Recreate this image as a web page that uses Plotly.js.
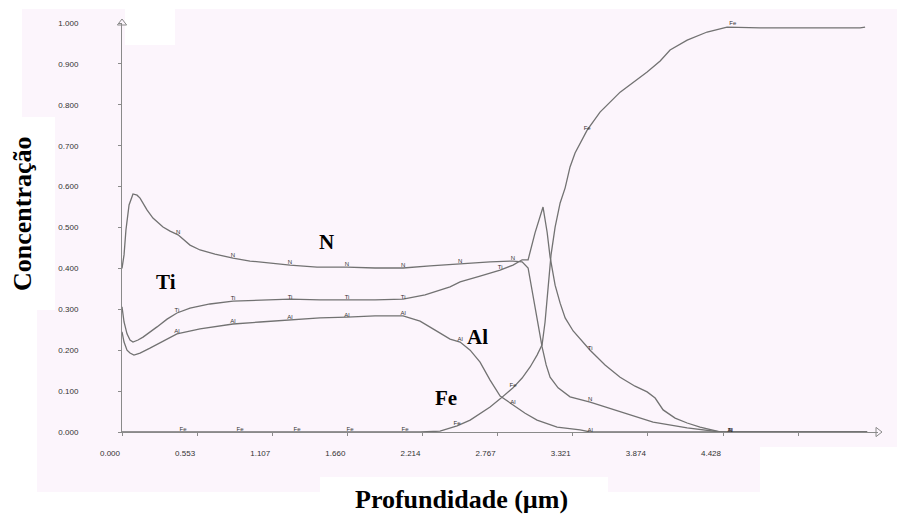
<!DOCTYPE html>
<html>
<head>
<meta charset="utf-8">
<script src="https://cdn.plot.ly/plotly-3.0.1.min.js"></script>
<style>html,body{margin:0;padding:0;background:#fff;}#chart{width:897px;height:518px;}</style>
</head>
<body>
<div id="chart"></div>
<script>
// ---- data (depth in µm, concentration fraction) ----
const depthN = [0,0.015,0.029,0.052,0.081,0.111,0.133,0.184,0.228,0.302,0.354,0.413,0.501,0.575,0.685,0.818,0.943,1.069,1.238,1.437,1.658,1.864,2.071,2.270,2.491,2.712,2.881,2.948,2.992,3.021,3.058,3.095,3.125,3.154,3.213,3.301,3.449,3.670,3.913,4.164,4.407,5.490];
const concN  = [0.400,0.433,0.494,0.555,0.582,0.579,0.572,0.543,0.523,0.501,0.491,0.482,0.457,0.445,0.435,0.425,0.418,0.413,0.408,0.403,0.403,0.401,0.401,0.406,0.411,0.416,0.418,0.416,0.401,0.347,0.274,0.208,0.164,0.134,0.108,0.086,0.073,0.049,0.024,0.010,0.000,0.000];

const depthTi = [0,0.015,0.037,0.059,0.081,0.118,0.155,0.206,0.258,0.332,0.405,0.501,0.648,0.818,1.017,1.238,1.459,1.658,1.864,2.071,2.233,2.417,2.491,2.638,2.786,2.881,2.948,2.992,3.043,3.102,3.132,3.154,3.191,3.228,3.265,3.324,3.449,3.559,3.670,3.780,3.869,3.928,3.987,4.075,4.164,4.259,4.407,5.490];
const concTi  = [0.306,0.269,0.240,0.225,0.220,0.225,0.232,0.244,0.257,0.276,0.291,0.303,0.313,0.320,0.323,0.325,0.323,0.323,0.323,0.325,0.335,0.355,0.367,0.381,0.396,0.408,0.421,0.421,0.487,0.550,0.489,0.428,0.359,0.315,0.279,0.247,0.200,0.164,0.134,0.112,0.098,0.083,0.054,0.034,0.022,0.012,0.000,0.000];

const depthAl = [0,0.015,0.037,0.059,0.088,0.133,0.206,0.280,0.405,0.575,0.818,1.017,1.238,1.459,1.658,1.864,2.071,2.196,2.307,2.417,2.491,2.565,2.638,2.712,2.786,2.881,2.970,3.058,3.206,3.375,3.449,5.490];
const concAl  = [0.245,0.220,0.200,0.193,0.188,0.193,0.205,0.218,0.240,0.252,0.264,0.269,0.274,0.279,0.281,0.284,0.284,0.271,0.249,0.227,0.220,0.200,0.171,0.127,0.088,0.066,0.046,0.029,0.012,0.005,0.000,0.000];

const depthFe = [0,2.196,2.343,2.469,2.565,2.638,2.712,2.786,2.881,2.948,3.007,3.058,3.095,3.117,3.132,3.147,3.161,3.191,3.228,3.265,3.301,3.338,3.375,3.427,3.522,3.670,3.869,3.965,4.038,4.164,4.311,4.458,4.702,4.996,5.291,5.438,5.475];
const concFe  = [0,0,0.002,0.015,0.029,0.044,0.061,0.081,0.108,0.132,0.159,0.188,0.213,0.269,0.323,0.384,0.433,0.501,0.560,0.597,0.648,0.682,0.707,0.738,0.782,0.831,0.880,0.907,0.934,0.958,0.978,0.990,0.988,0.988,0.988,0.988,0.990];

// small in-line element tags along each curve
const tagNx  = [0.413,0.818,1.238,1.658,2.071,2.491,2.881,3.449,4.48];
const tagNy  = [0.488,0.432,0.414,0.409,0.407,0.417,0.425,0.080,0.004];
const tagTix = [0.405,0.818,1.238,1.658,2.071,2.786,3.449,4.48];
const tagTiy = [0.296,0.326,0.330,0.328,0.330,0.401,0.205,0.004];
const tagAlx = [0.405,0.818,1.238,1.658,2.071,2.491,2.881,3.449,4.48];
const tagAly = [0.245,0.269,0.279,0.286,0.289,0.226,0.071,0.004,0.004];
const tagFex = [0.450,0.870,1.290,1.680,2.085,2.469,2.881,3.427,4.50];
const tagFey = [0.005,0.005,0.005,0.005,0.005,0.020,0.113,0.743,0.998];

const tickVals = [0,0.5535,1.107,1.6605,2.214,2.7675,3.321,3.8745,4.428,4.9815];
const tickText = ['0.000','0.553','1.107','1.660','2.214','2.767','3.321','3.874','4.428',''];
const yTickVals = [0,0.1,0.2,0.3,0.4,0.5,0.6,0.7,0.8,0.9,1.0];
const yTickText = ['0.000','0.100','0.200','0.300','0.400','0.500','0.600','0.700','0.800','0.900','1.000'];

const bigLabels = [
  {t:'N',  x:1.503, y:0.465},
  {t:'Ti', x:0.321, y:0.367},
  {t:'Al', x:2.616, y:0.232},
  {t:'Fe', x:2.388, y:0.084}
];

// ---- style ----
const lineCol = '#727272';
const axisCol = '#8a8a8a';
const pink = '#fcf5fc';
const serif = 'Liberation Serif, Times New Roman, serif';
const narrow = 'Liberation Sans Narrow, Arial Narrow, Liberation Sans, sans-serif';

function curve(x, y){
  return {x:x, y:y, type:'scatter', mode:'lines', line:{color:lineCol, width:1.3}, hoverinfo:'skip', showlegend:false};
}
function tags(x, y, t){
  return {x:x, y:y, type:'scatter', mode:'text', text:x.map(()=>t), textposition:'middle center',
    textfont:{family:narrow, size:6, color:'#333'}, hoverinfo:'skip', showlegend:false, cliponaxis:false};
}

const traces = [
  curve(depthN, concN), curve(depthTi, concTi), curve(depthAl, concAl), curve(depthFe, concFe),
  tags(tagNx, tagNy, 'N'), tags(tagTix, tagTiy, 'Ti'), tags(tagAlx, tagAly, 'Al'), tags(tagFex, tagFey, 'Fe'),
  {x:[0], y:[1.0], type:'scatter', mode:'markers', marker:{symbol:'triangle-up-open', size:8, color:axisCol, line:{width:1, color:axisCol}}, cliponaxis:false, hoverinfo:'skip', showlegend:false},
  {x:[5.57], y:[0], type:'scatter', mode:'markers', marker:{symbol:'triangle-right-open', size:8, color:axisCol, line:{width:1, color:axisCol}}, cliponaxis:false, hoverinfo:'skip', showlegend:false}
];

function rect(x0,x1,y0,y1,c){
  return {type:'rect', xref:'paper', yref:'paper', x0:x0, x1:x1, y0:y0, y1:y1, fillcolor:c, line:{width:0}, layer:'below'};
}

const annotations = bigLabels.map(b => ({
  x:b.x, y:b.y, xref:'x', yref:'y', text:b.t, showarrow:false,
  font:{family:serif, size:21, color:'#000', weight:'bold'}, xanchor:'center', yanchor:'middle'
}));
annotations.push({x:0.4497, y:-0.164, xref:'paper', yref:'paper', text:'<b>Profundidade (µm)</b>', showarrow:false,
  font:{family:serif, size:26, color:'#000'}, xanchor:'center', yanchor:'middle'});
annotations.push({x:-0.131, y:0.5355, xref:'paper', yref:'paper', text:'<b>Concentração</b>', showarrow:false, textangle:-90,
  font:{family:serif, size:26, color:'#000'}, xanchor:'center', yanchor:'middle'});

const layout = {
  width:897, height:518,
  margin:{l:122, r:19, t:23, b:86, pad:0},
  paper_bgcolor:'#ffffff', plot_bgcolor:'rgba(0,0,0,0)',
  showlegend:false,
  xaxis:{range:[0,5.57], showgrid:false, zeroline:false, showline:true, linecolor:axisCol, linewidth:1,
    ticks:'outside', ticklen:3, tickcolor:axisCol, tickmode:'array', tickvals:tickVals, ticktext:tickText,
    tickfont:{family:narrow, size:8, color:'#333'}, ticklabelstandoff:10, ticklabelshift:-12, fixedrange:true},
  yaxis:{range:[0,1.0], showgrid:false, zeroline:false, showline:true, linecolor:axisCol, linewidth:1,
    ticks:'outside', ticklen:3, tickcolor:axisCol, tickmode:'array', tickvals:yTickVals, ticktext:yTickText,
    tickfont:{family:narrow, size:8, color:'#333'}, ticklabelstandoff:38, fixedrange:true},
  shapes:[
    rect(-0.1323,1.0251,0.7702,1.0342,pink),
    rect(-0.0886,1.0251,0.2983,0.7702,pink),
    rect(-0.1124,1.0251,-0.0367,0.2983,pink),
    rect(-0.1124,0.2619,-0.1467,-0.0367,pink),
    rect(0.2619,0.6429,-0.1100,-0.0367,pink),
    rect(0.6429,0.8439,-0.1467,-0.0367,pink),
    rect(0.004,0.0701,0.9462,1.0342,'#ffffff')
  ],
  annotations:annotations
};

Plotly.newPlot('chart', traces, layout, {staticPlot:true, displayModeBar:false});
</script>
</body>
</html>
